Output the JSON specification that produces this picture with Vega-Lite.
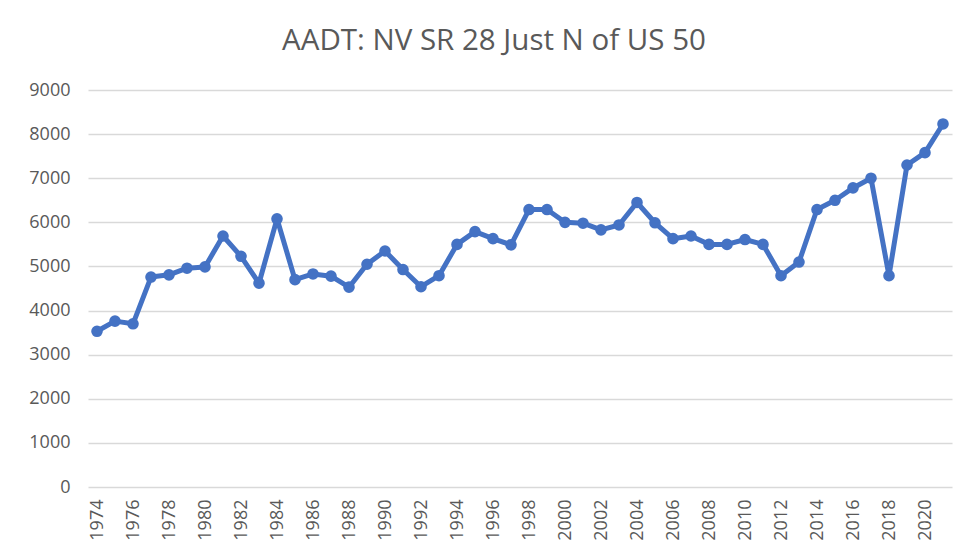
{
  "$schema": "https://vega.github.io/schema/vega-lite/v6.json",
  "autosize": {"type": "none"},
  "padding": {"left": 88, "top": 90, "right": 20, "bottom": 72},
  "width": 864,
  "height": 397,
  "background": "white",
  "title": {
    "text": "AADT: NV SR 28 Just N of US 50",
    "font": "Open Sans",
    "fontSize": 29.5,
    "fontWeight": "normal",
    "color": "#595959",
    "anchor": "middle",
    "frame": "group",
    "baseline": "alphabetic",
    "offset": 2,
    "dx": -26
  },
  "config": {
    "view": {"stroke": null},
    "axis": {
      "labelFont": "Open Sans",
      "labelFontSize": 18,
      "labelColor": "#595959",
      "ticks": false,
      "domain": false,
      "title": null
    }
  },
  "data": {
    "values": [
      {"year": 1974, "aadt": 3530},
      {"year": 1975, "aadt": 3760},
      {"year": 1976, "aadt": 3700},
      {"year": 1977, "aadt": 4760},
      {"year": 1978, "aadt": 4810},
      {"year": 1979, "aadt": 4960},
      {"year": 1980, "aadt": 4990},
      {"year": 1981, "aadt": 5690},
      {"year": 1982, "aadt": 5230},
      {"year": 1983, "aadt": 4620},
      {"year": 1984, "aadt": 6080},
      {"year": 1985, "aadt": 4700},
      {"year": 1986, "aadt": 4830},
      {"year": 1987, "aadt": 4780},
      {"year": 1988, "aadt": 4530},
      {"year": 1989, "aadt": 5050},
      {"year": 1990, "aadt": 5350},
      {"year": 1991, "aadt": 4930},
      {"year": 1992, "aadt": 4540},
      {"year": 1993, "aadt": 4790},
      {"year": 1994, "aadt": 5500},
      {"year": 1995, "aadt": 5790},
      {"year": 1996, "aadt": 5630},
      {"year": 1997, "aadt": 5490},
      {"year": 1998, "aadt": 6290},
      {"year": 1999, "aadt": 6290},
      {"year": 2000, "aadt": 6000},
      {"year": 2001, "aadt": 5980},
      {"year": 2002, "aadt": 5830},
      {"year": 2003, "aadt": 5940},
      {"year": 2004, "aadt": 6450},
      {"year": 2005, "aadt": 5990},
      {"year": 2006, "aadt": 5630},
      {"year": 2007, "aadt": 5690},
      {"year": 2008, "aadt": 5500},
      {"year": 2009, "aadt": 5500},
      {"year": 2010, "aadt": 5610},
      {"year": 2011, "aadt": 5500},
      {"year": 2012, "aadt": 4790},
      {"year": 2013, "aadt": 5100},
      {"year": 2014, "aadt": 6290},
      {"year": 2015, "aadt": 6500},
      {"year": 2016, "aadt": 6780},
      {"year": 2017, "aadt": 7000},
      {"year": 2018, "aadt": 4790},
      {"year": 2019, "aadt": 7300},
      {"year": 2020, "aadt": 7580},
      {"year": 2021, "aadt": 8230}
    ]
  },
  "mark": {
    "type": "line",
    "color": "#4472C4",
    "strokeWidth": 5,
    "strokeJoin": "round",
    "point": {"filled": true, "size": 135, "color": "#4472C4", "opacity": 1}
  },
  "encoding": {
    "x": {
      "field": "year",
      "type": "ordinal",
      "scale": {"type": "point", "padding": 0.5},
      "axis": {
        "labelAngle": -90,
        "labelPadding": 12,
        "grid": false,
        "values": [1974,1976,1978,1980,1982,1984,1986,1988,1990,1992,1994,1996,1998,2000,2002,2004,2006,2008,2010,2012,2014,2016,2018,2020]
      }
    },
    "y": {
      "field": "aadt",
      "type": "quantitative",
      "scale": {"domain": [0, 9000], "nice": false},
      "axis": {
        "values": [0,1000,2000,3000,4000,5000,6000,7000,8000,9000],
        "format": "d",
        "labelPadding": 18,
        "grid": true,
        "gridColor": "#d9d9d9",
        "gridWidth": 1.3
      }
    }
  }
}
